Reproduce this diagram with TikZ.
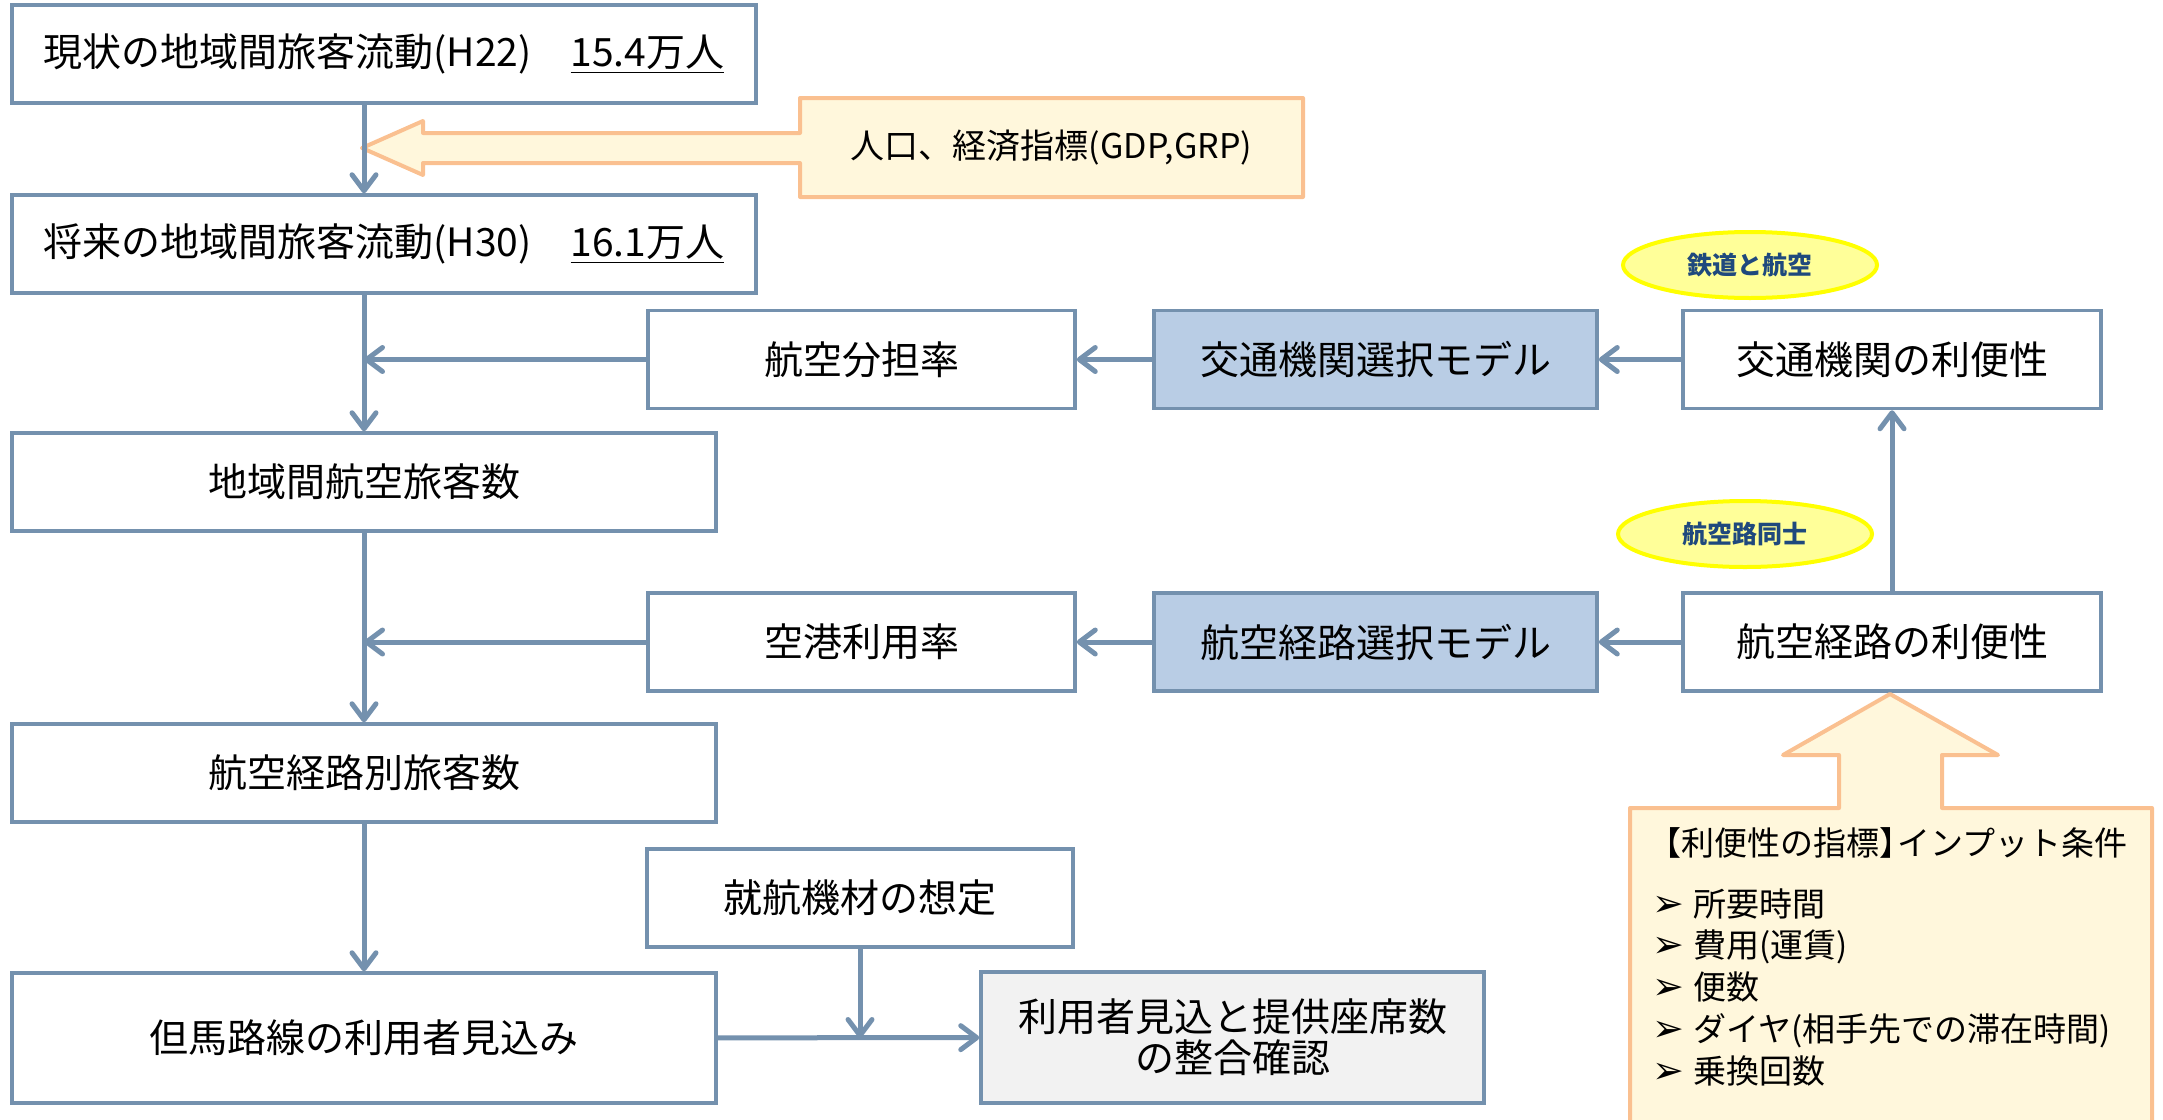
\documentclass[tikz,border=0pt]{standalone}
\usepackage{fontspec}
\setmainfont{Noto Sans CJK JP}
\newfontfamily\symfont{DejaVu Sans}
\usepackage{tikz}
\usetikzlibrary{arrows.meta, shapes.geometric}
\definecolor{boxline}{RGB}{116,145,174}
\definecolor{modelblue}{RGB}{185,205,229}
\definecolor{checkgray}{RGB}{242,242,242}
\definecolor{inputfill}{RGB}{255,247,220}
\definecolor{inputline}{RGB}{250,192,144}
\definecolor{ovalfill}{RGB}{255,255,153}
\definecolor{ovalline}{RGB}{255,255,0}
\definecolor{ovaltext}{RGB}{31,73,125}

\begin{document}
\begin{tikzpicture}[
        x=0.5pt, y=-0.5pt,
        box/.style={
            rectangle, draw=boxline, line width=1.75pt, fill=#1, text=black,
            minimum height=49pt, inner sep=0pt,
            align=center, font=\fontsize{19.5pt}{20.5pt}\selectfont,
        },
        box/.default=white,
        flow/.style={draw=boxline, line width=2.5pt,
            -{Straight Barb[length=8pt,width=12pt,round]}},
        tag/.style={
            ellipse, draw=ovalline, fill=ovalfill, line width=2pt,
            minimum width=127pt, minimum height=33pt, text=ovaltext,
            font=\fontsize{12.5pt}{14pt}\selectfont\bfseries,
        },
        callout/.style={draw=inputline, fill=inputfill, line width=2pt, line join=round},
        cond/.style={anchor=base west, inner sep=0pt, font=\fontsize{16.5pt}{18pt}\selectfont},
    ]
        \useasboundingbox (0,0) rectangle (2163,1119);

        % main column
        \node[box, minimum width=372pt] (now) at (384,54) {現状の地域間旅客流動(H22)\quad\underline{15.4万人}};
        \node[box, minimum width=372pt] (future) at (384,244) {将来の地域間旅客流動(H30)\quad\underline{16.1万人}};
        \node[box, minimum width=352pt] (airpax) at (364,482) {地域間航空旅客数};
        \node[box, minimum width=352pt] (routepax) at (364,773) {航空経路別旅客数};
        \node[box, minimum width=352pt, minimum height=65pt] (tajima) at (364,1038) {但馬路線の利用者見込み};

        % model rows
        \node[box, minimum width=213.5pt] (share) at (861.5,359.5) {航空分担率};
        \node[box=modelblue, minimum width=221.5pt] (modesel) at (1375.5,359.5) {交通機関選択モデル};
        \node[box, minimum width=209pt] (modeconv) at (1892,359.5) {交通機関の利便性};
        \node[box, minimum width=213.5pt] (aprate) at (861.5,642) {空港利用率};
        \node[box=modelblue, minimum width=221.5pt] (routesel) at (1375.5,642) {航空経路選択モデル};
        \node[box, minimum width=209pt] (routeconv) at (1892,642) {航空経路の利便性};

        \node[box, minimum width=213pt] (fleet) at (860,898) {就航機材の想定};
        \node[box=checkgray, minimum width=251.5pt, minimum height=65.5pt] (check) at (1232.5,1037.5) {利用者見込と提供座席数\\の整合確認};

        \node[tag] (railair) at (1750,265) {鉄道と航空};
        \node[tag] (airair) at (1745,534) {航空路同士};

        % input callouts
        \draw[callout] (1303,98) -- (800,98) -- (800,133) -- (423,133) -- (423,121) -- (362,148)
            -- (423,175) -- (423,163) -- (800,163) -- (800,197) -- (1303,197) -- cycle;
        \node[font=\fontsize{17pt}{18pt}\selectfont] (pop) at (1051.5,147.5) {人口、経済指標(GDP,GRP)};

        \draw[callout] (1630,1124) -- (1630,808) -- (1839,808) -- (1839,755) -- (1783,755) -- (1890,694)
            -- (1998,755) -- (1942,755) -- (1942,808) -- (2152,808) -- (2152,1124) -- cycle;
        \node[cond] (condhead) at (1648,855) {【利便性の指標】\hspace{-0.45em}インプット条件};
        \foreach \txt [count=\i] in {所要時間, 費用(運賃), 便数, ダイヤ(相手先での滞在時間), 乗換回数}
            \node[cond] (cond\i) at (1652,{916+41.75*(\i-1)}) {\makebox[20.5pt][l]{\symfont\fontsize{19pt}{19pt}\selectfont ➢}\txt};

        % connectors
        \draw[flow] (airpax.north |- now.south) -- (airpax.north |- future.north);
        \draw[flow] (future.south -| airpax.north) -- (airpax);
        \draw[flow] (airpax) -- (routepax);
        \draw[flow] (routepax) -- (tajima);
        \draw[flow] (share) -- (share.west -| airpax.north);
        \draw[flow] (aprate) -- (aprate.west -| airpax.north);
        \draw[flow] (modesel) -- (share);
        \draw[flow] (routesel) -- (aprate);
        \draw[flow] (modeconv) -- (modesel);
        \draw[flow] (routeconv) -- (routesel);
        \draw[flow] (routeconv) -- (modeconv);
        \draw[flow] (tajima) -- (check);
        \draw[flow] (fleet) -- (fleet.south |- tajima.east);
    \end{tikzpicture}
\end{document}
